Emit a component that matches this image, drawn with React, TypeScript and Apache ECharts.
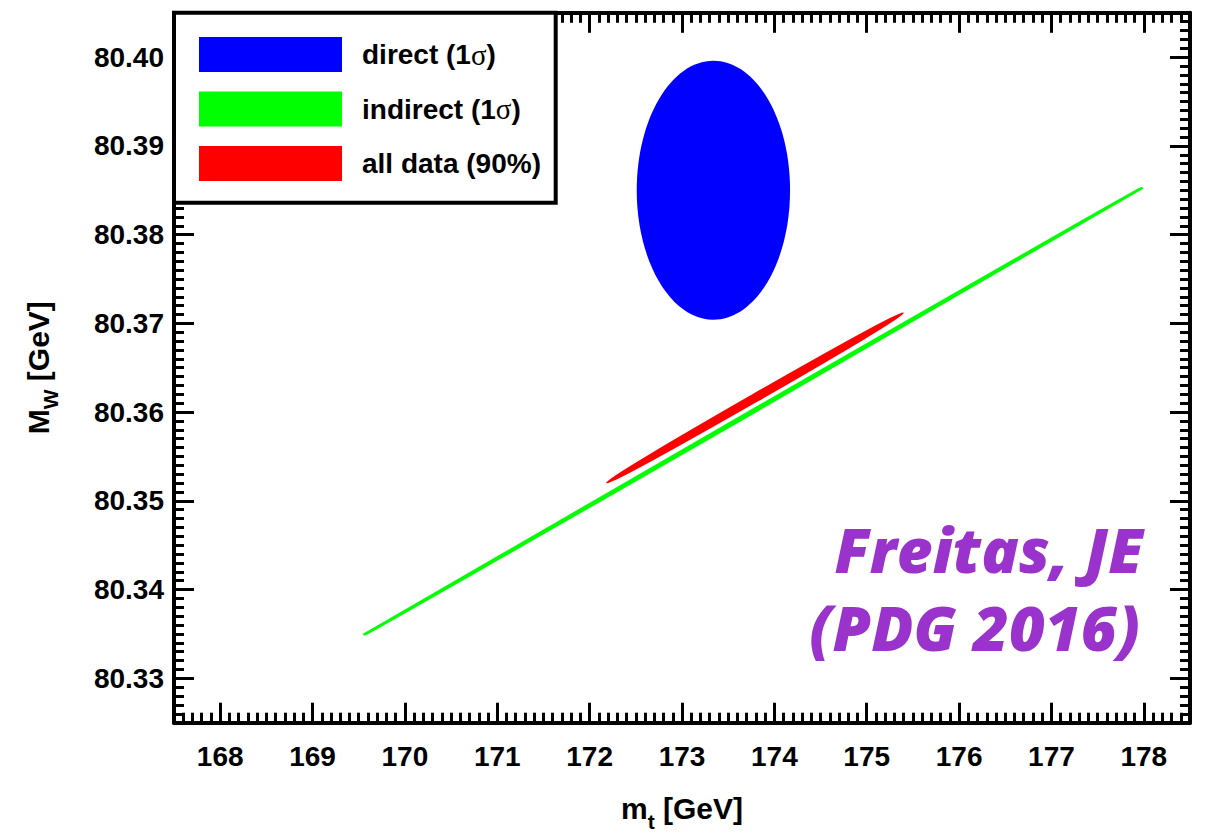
import React, { useEffect, useRef } from 'react';
import * as echarts from 'echarts';

// ---- data ----
const xRange = [167.5, 178.5]; // m_t [GeV]
const yRange = [80.325, 80.405]; // M_W [GeV]
const xMajorStep = 1;
const yMajorStep = 0.01;
const seriesNames = ['direct (1σ)', 'indirect (1σ)', 'all data (90%)'];
const seriesColors = ['#0000ff', '#00ff00', '#ff0000'];
// [centre m_t, centre M_W, half-width m_t, half-width M_W]
const directRegion = [[173.34, 80.385, 0.83, 0.0146]];
// [m_t start, M_W start, m_t end, M_W end, vertical width in M_W]
const indirectRegion = [[169.55, 80.3349, 177.99, 80.3853, 0.00032]];
const allDataRegion = [[172.18, 80.352, 175.4, 80.3712, 0.00082]];
const annotationLines = ['Freitas, JE', '(PDG 2016)'];

const FONT = '"Liberation Sans", Arial, Helvetica, sans-serif';
const ANNOT_FONT = 'italic 800 62px "Open Sans", Lato, sans-serif';

function renderEllipse(params: any, api: any) {
  const c = api.coord([api.value(0), api.value(1)]);
  const sz = api.size([api.value(2), api.value(3)]);
  return {
    type: 'ellipse',
    shape: { cx: c[0], cy: c[1], rx: Math.abs(sz[0]), ry: Math.abs(sz[1]) },
    style: { fill: api.visual('color') },
  };
}

function renderBand(params: any, api: any) {
  const p1 = api.coord([api.value(0), api.value(1)]);
  const p2 = api.coord([api.value(2), api.value(3)]);
  const dx = p2[0] - p1[0];
  const dy = p2[1] - p1[1];
  const len = Math.hypot(dx, dy);
  const ang = Math.atan2(dy, dx);
  const vh = Math.abs(api.size([0, api.value(4)])[1]);
  const half = Math.abs((vh * Math.cos(ang)) / 2);
  const color = api.visual('color');
  return {
    type: 'ellipse',
    x: (p1[0] + p2[0]) / 2,
    y: (p1[1] + p2[1]) / 2,
    rotation: -ang,
    shape: { cx: 0, cy: 0, rx: len / 2 - 1.2, ry: half },
    style: { fill: color, stroke: color, lineWidth: 2.6 },
  };
}

function makeAxis(kind: 'x' | 'y', position: string, labels: boolean, step: number, range: number[]) {
  const axis: any = {
    type: 'value',
    min: range[0],
    max: range[1],
    minInterval: step,
    maxInterval: step,
    position,
    axisLine: { show: true, onZero: false, lineStyle: { color: '#000', width: 4 } },
    axisTick: { show: true, inside: true, length: 20, lineStyle: { color: '#000', width: 3 } },
    minorTick: { show: true, splitNumber: 10, length: 10, lineStyle: { color: '#000', width: 3 } },
    splitLine: { show: false },
    minorSplitLine: { show: false },
    axisLabel: {
      show: labels,
      showMinLabel: false,
      showMaxLabel: false,
      margin: kind === 'x' ? 20 : 10,
      fontSize: 28,
      fontWeight: 'bold',
      fontFamily: FONT,
      color: '#000',
      formatter: (v: number) => (kind === 'x' ? Math.round(v).toString() : v.toFixed(2)),
    },
  };
  return axis;
}

const richTitle = {
  b: { fontSize: 30, fontWeight: 'bold', fontFamily: FONT, color: '#000', lineHeight: 30, verticalAlign: 'top' },
  s: {
    fontSize: 21,
    fontWeight: 'bold',
    fontFamily: FONT,
    color: '#000',
    lineHeight: 21,
    verticalAlign: 'top',
    padding: [17, 0, 0, 0],
  },
};

export default function App() {
  const ref = useRef<HTMLDivElement>(null);
  useEffect(() => {
    if (!ref.current) return;
    const chart = echarts.init(ref.current, null, { renderer: 'svg' });
    const xBottom = makeAxis('x', 'bottom', true, xMajorStep, xRange);
    xBottom.name = '{b|m}{s|t}{b| [GeV]}';
    xBottom.nameLocation = 'middle';
    xBottom.nameGap = 71;
    xBottom.nameTextStyle = { rich: richTitle };
    const yLeft = makeAxis('y', 'left', true, yMajorStep, yRange);
    yLeft.name = '{b|M}{s|W}{b| [GeV]}';
    yLeft.nameLocation = 'middle';
    yLeft.nameGap = 121;
    yLeft.nameTextStyle = { rich: richTitle };
    const xTop = makeAxis('x', 'top', false, xMajorStep, xRange);
    const yRight = makeAxis('y', 'right', false, yMajorStep, yRange);

    chart.setOption({
      animation: false,
      backgroundColor: '#fff',
      grid: { left: 174, right: 22, top: 12.8, bottom: 112.3, containLabel: false, outerBoundsMode: 'none' },
      xAxis: [xBottom, xTop],
      yAxis: [yLeft, yRight],
      legend: {
        show: true,
        orient: 'vertical',
        left: 199,
        top: 37,
        padding: 0,
        itemWidth: 143,
        itemHeight: 35,
        itemGap: 19.5,
        icon: 'rect',
        selectedMode: false,
        z: 20,
        data: seriesNames,
        formatter: (name: string) => name.replace('σ', '{g|σ}'),
        textStyle: {
          fontSize: 28,
          fontWeight: 'bold',
          fontFamily: FONT,
          color: '#000',
          padding: [0, 0, 0, 15],
          rich: {
            g: { fontSize: 29, fontFamily: '"Liberation Serif", "Times New Roman", serif', fontWeight: 'normal', color: '#000' },
          },
        },
      },
      graphic: [
        {
          type: 'rect',
          z: 5,
          shape: { x: 174, y: 12.8, width: 555.7 - 174, height: 202.8 - 12.8 },
          style: { fill: '#fff', stroke: '#000', lineWidth: 4 },
        },
        {
          type: 'text',
          z: 5,
          x: 1143,
          y: 549,
          style: {
            text: annotationLines[0],
            fill: '#9933cc',
            font: ANNOT_FONT,
            align: 'right',
            verticalAlign: 'middle',
          },
        },
        {
          type: 'text',
          z: 5,
          x: 1140,
          y: 627,
          style: {
            text: annotationLines[1],
            fill: '#9933cc',
            font: ANNOT_FONT,
            align: 'right',
            verticalAlign: 'middle',
          },
        },
      ],
      series: [
        {
          name: seriesNames[0],
          type: 'custom',
          renderItem: renderEllipse,
          itemStyle: { color: seriesColors[0] },
          data: directRegion,
          silent: true,
        },
        {
          name: seriesNames[1],
          type: 'custom',
          renderItem: renderBand,
          itemStyle: { color: seriesColors[1] },
          data: indirectRegion,
          silent: true,
        },
        {
          name: seriesNames[2],
          type: 'custom',
          renderItem: renderBand,
          itemStyle: { color: seriesColors[2] },
          data: allDataRegion,
          silent: true,
        },
      ],
    });
    return () => chart.dispose();
  }, []);
  return (
    <div
      ref={ref}
      style={{ position: 'absolute', left: 0, top: 0, width: 1212, height: 835 }}
    />
  );
}
